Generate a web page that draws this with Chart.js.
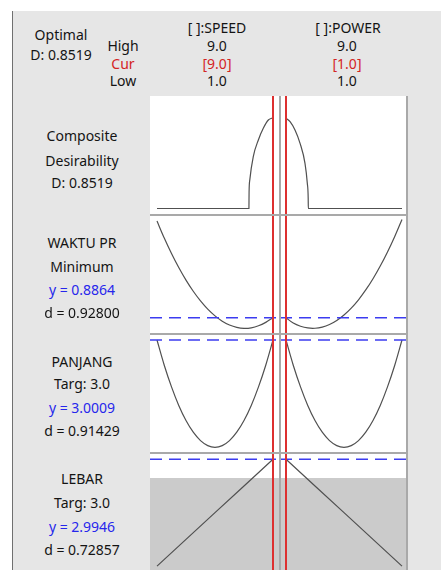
<!DOCTYPE html>
<html>
<head>
<meta charset="utf-8">
<script src="https://cdn.jsdelivr.net/npm/chart.js@4.4.1/dist/chart.umd.min.js"></script>
<style>
  body { margin: 0; width: 441px; height: 570px; overflow: hidden; background: #fff; position: relative;
         font-family: "Noto Sans", sans-serif; font-size: 14px; color: #141414; }
  #frame { position: absolute; left: 12px; top: 11px; width: 429px; height: 559px; background: #e6e6e6; border-left: 1px solid #707070; }
  #plot { position: absolute; left: 150px; top: 96px; width: 258px; height: 476px; background: #fff; }
  canvas { position: absolute; }
  .t { position: absolute; transform: translate(-50%, -50%); white-space: nowrap; }
  .red { color: #d42424; }
  .blue { color: #2626ec; }
  .sep { position: absolute; background: #a9a9a9; }
</style>
</head>
<body>
<div id="frame"></div>
<div id="plot"></div>

<canvas id="c00" width="130" height="119" style="left:150px;top:96px"></canvas>
<canvas id="c01" width="128" height="119" style="left:280px;top:96px"></canvas>
<canvas id="c10" width="130" height="119" style="left:150px;top:215px"></canvas>
<canvas id="c11" width="128" height="119" style="left:280px;top:215px"></canvas>
<canvas id="c20" width="130" height="119" style="left:150px;top:334px"></canvas>
<canvas id="c21" width="128" height="119" style="left:280px;top:334px"></canvas>
<canvas id="c30" width="130" height="119" style="left:150px;top:453px"></canvas>
<canvas id="c31" width="128" height="119" style="left:280px;top:453px"></canvas>

<div class="sep" style="left:150px;top:214px;width:258px;height:2px"></div>
<div class="sep" style="left:150px;top:333px;width:258px;height:2px"></div>
<div class="sep" style="left:150px;top:452px;width:258px;height:2px"></div>
<div class="sep" style="left:279px;top:96px;width:2px;height:476px"></div>
<div class="sep" style="left:406px;top:96px;width:2px;height:476px"></div>

<div class="t" style="left:61px;top:34px">Optimal</div>
<div class="t" style="left:61px;top:54px">D: 0.8519</div>
<div class="t" style="left:123px;top:45px">High</div>
<div class="t red" style="left:123px;top:63px">Cur</div>
<div class="t" style="left:123px;top:80px">Low</div>
<div class="t" style="left:217px;top:27px">[ ]:SPEED</div>
<div class="t" style="left:217px;top:45px">9.0</div>
<div class="t red" style="left:217px;top:63px">[9.0]</div>
<div class="t" style="left:217px;top:80px">1.0</div>
<div class="t" style="left:348px;top:27px">[ ]:POWER</div>
<div class="t" style="left:347px;top:45px">9.0</div>
<div class="t red" style="left:347px;top:63px">[1.0]</div>
<div class="t" style="left:347px;top:80px">1.0</div>

<div class="t" style="left:82px;top:135px">Composite</div>
<div class="t" style="left:82px;top:160px">Desirability</div>
<div class="t" style="left:82px;top:182px">D: 0.8519</div>
<div class="t" style="left:82px;top:242px">WAKTU PR</div>
<div class="t" style="left:82px;top:266px">Minimum</div>
<div class="t blue" style="left:82px;top:289px">y = 0.8864</div>
<div class="t" style="left:82px;top:312px">d = 0.92800</div>
<div class="t" style="left:82px;top:361px">PANJANG</div>
<div class="t" style="left:82px;top:383px">Targ: 3.0</div>
<div class="t blue" style="left:82px;top:407px">y = 3.0009</div>
<div class="t" style="left:82px;top:430px">d = 0.91429</div>
<div class="t" style="left:82px;top:478px">LEBAR</div>
<div class="t" style="left:82px;top:502px">Targ: 3.0</div>
<div class="t blue" style="left:82px;top:526px">y = 2.9946</div>
<div class="t" style="left:82px;top:549px">d = 0.72857</div>

<script>
// factor settings
const curSpeed = 9.0;
const curPower = 1.0;

// grid used for the response curves
const gridX = [1, 1.5, 2, 2.5, 3, 3.5, 4, 4.5, 5, 5.5, 6, 6.5, 7, 7.5, 8, 8.5, 9];

// composite desirability
const compSpeedX = [1, 7.34, 7.35, 7.40, 7.64, 7.99, 8.33, 8.68, 8.91, 9];
const compSpeedD = [0, 0, 0.15, 0.27, 0.49, 0.646, 0.756, 0.834, 0.850, 0.852];
const compPowerX = [1, 1.28, 1.62, 1.97, 2.31, 2.47, 2.53, 2.54, 9];
const compPowerD = [0.852, 0.818, 0.74, 0.614, 0.426, 0.237, 0.10, 0, 0];

// WAKTU PR (minimize)
const waktuSpeed = [1.128, 1.0856, 1.0469, 1.0118, 0.9804, 0.9526, 0.9285, 0.9079, 0.8911,
                    0.8778, 0.8682, 0.8623, 0.8599, 0.8612, 0.8662, 0.8748, 0.8864];
const waktuPower = [0.8864, 0.8730, 0.8651, 0.8608, 0.8601, 0.8629, 0.8694, 0.8795, 0.8932,
                    0.9105, 0.9313, 0.9558, 0.9839, 1.0156, 1.0509, 1.0897, 1.1322];

// PANJANG (target 3.0)
const panjangSpeed = [3.0009, 2.9757, 2.9540, 2.9355, 2.9204, 2.9087, 2.9003, 2.8953, 2.8936,
                      2.8953, 2.9003, 2.9087, 2.9204, 2.9355, 2.9540, 2.9757, 3.0009];
const panjangPower = [3.0009, 2.9757, 2.9540, 2.9355, 2.9204, 2.9087, 2.9003, 2.8953, 2.8936,
                      2.8953, 2.9003, 2.9087, 2.9204, 2.9355, 2.9540, 2.9757, 3.0009];

// LEBAR (target 3.0, lower limit 2.98)
const lebarX = [1, 3, 5, 7, 9];
const lebarSpeed = [2.9113, 2.9321, 2.9530, 2.9738, 2.9946];
const lebarPower = [2.9946, 2.9738, 2.9530, 2.9321, 2.9113];
const lebarLower = 2.98;

// current predicted responses
const yWaktu = 0.8864;
const yPanjang = 3.0009;
const yLebar = 2.9946;

const pts = (xs, ys) => xs.map((x, i) => ({x: x, y: ys[i]}));

const RED = '#dd3030';
const BLUE = '#3c3cf0';
const CURVE = '#505050';

function cell(id, xr, yr, cur, curve, opts) {
  opts = opts || {};
  const datasets = [];
  datasets.push({ data: [{x: cur, y: yr[0]}, {x: cur, y: yr[1]}], borderColor: RED, borderWidth: 2 });
  if (opts.yNow !== undefined) {
    datasets.push({ data: [{x: xr[0], y: opts.yNow}, {x: xr[1], y: opts.yNow}],
                    borderColor: BLUE, borderWidth: 1.6, borderDash: [12, 7] });
  }
  datasets.push(Object.assign({ data: curve, borderColor: CURVE, borderWidth: 1.2 }, opts.curveStyle || {}));
  if (opts.shade !== undefined) {
    datasets.push({ data: [{x: xr[0], y: opts.shade}, {x: xr[1], y: opts.shade}],
                    borderWidth: 0, backgroundColor: '#cbcbcb', fill: 'start' });
  }
  new Chart(document.getElementById(id), {
    type: 'line',
    data: { datasets: datasets },
    options: {
      responsive: false,
      animation: false,
      events: [],
      layout: { padding: 0 },
      elements: { point: { radius: 0 }, line: { tension: 0 } },
      scales: {
        x: { type: 'linear', min: xr[0], max: xr[1], display: false },
        y: { type: 'linear', min: yr[0], max: yr[1], display: false }
      },
      plugins: { legend: { display: false }, tooltip: { enabled: false } }
    }
  });
}

const xS = [0.517, 9.483];
const xP = [0.586, 9.414];
const mono = { cubicInterpolationMode: 'monotone' };
const smooth = { tension: 0.35 };

cell('c00', xS, [-0.061, 1.060], curSpeed, pts(compSpeedX, compSpeedD), { curveStyle: mono });
cell('c01', xP, [-0.061, 1.060], curPower, pts(compPowerX, compPowerD), { curveStyle: mono });
cell('c10', xS, [0.8457, 1.1432], curSpeed, pts(gridX, waktuSpeed), { yNow: yWaktu, curveStyle: smooth });
cell('c11', xP, [0.8457, 1.1432], curPower, pts(gridX, waktuPower), { yNow: yWaktu, curveStyle: smooth });
cell('c20', xS, [2.8879, 3.0069], curSpeed, pts(gridX, panjangSpeed), { yNow: yPanjang, curveStyle: smooth });
cell('c21', xP, [2.8879, 3.0069], curPower, pts(gridX, panjangPower), { yNow: yPanjang, curveStyle: smooth });
cell('c30', xS, [2.9067, 2.9995], curSpeed, pts(lebarX, lebarSpeed), { yNow: yLebar, shade: lebarLower });
cell('c31', xP, [2.9067, 2.9995], curPower, pts(lebarX, lebarPower), { yNow: yLebar, shade: lebarLower });
</script>
</body>
</html>
